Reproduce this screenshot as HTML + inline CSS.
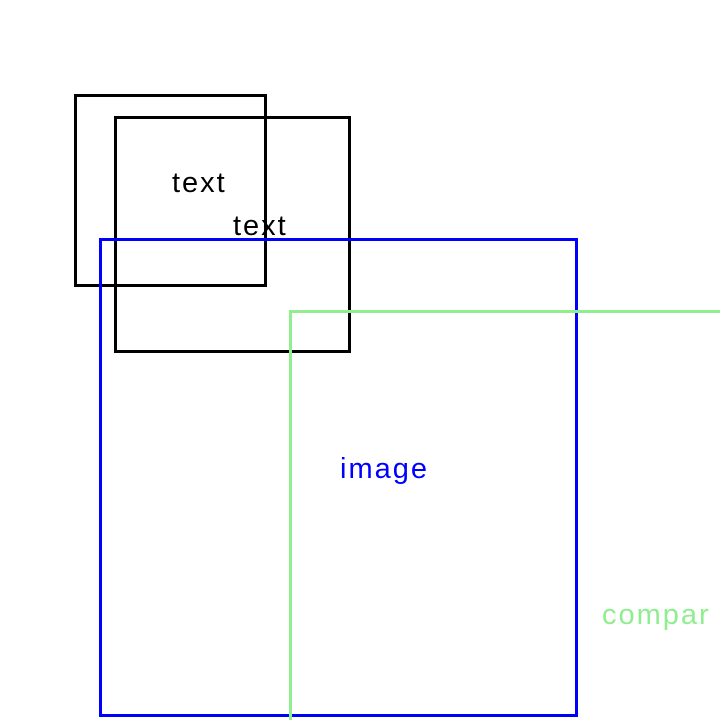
<!DOCTYPE html>
<html><head><meta charset="utf-8"><style>
html,body{margin:0;padding:0;background:#fff;width:720px;height:720px;overflow:hidden}
svg{display:block}
svg text{font-family:"Liberation Sans",sans-serif;font-size:29px;letter-spacing:2px}
</style></head><body>
<svg width="720" height="720" viewBox="0 0 720 720">
<rect x="75.5" y="95.5" width="190" height="190" fill="none" stroke="#000" stroke-width="3"/>
<rect x="115.5" y="117.5" width="234" height="234" fill="none" stroke="#000" stroke-width="3"/>
<rect x="100.5" y="239.5" width="476" height="476" fill="none" stroke="#0000ff" stroke-width="3"/>
<path d="M290.5 720 L290.5 311.5 L720 311.5" fill="none" stroke="#90ee90" stroke-width="3"/>
<text x="172" y="192" fill="#000">text</text>
<text x="233" y="235" fill="#000">text</text>
<text x="340" y="478" fill="#0000ff">image</text>
<text x="602" y="624" fill="#90ee90">compar</text>
</svg>
</body></html>
